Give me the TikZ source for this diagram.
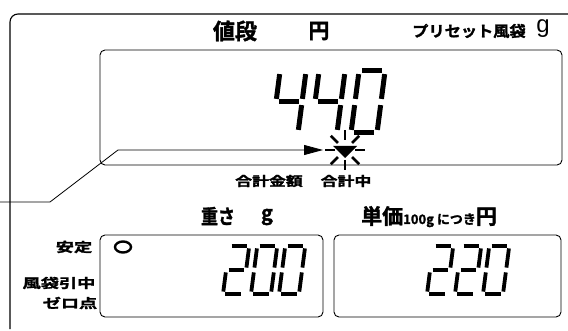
\documentclass[tikz,border=0pt]{standalone}
\usepackage{fontspec}
\newfontfamily\jp{Noto Sans CJK JP Bold}[FakeBold=1.6]
\newfontfamily\lat{Liberation Sans}
\usepackage{tikz}
\usetikzlibrary{arrows.meta,shapes.geometric}
\tikzstyle{frame}=[draw, line width=1.1pt, rounded corners=8pt]
\tikzstyle{panel}=[draw, line width=0.9pt, rounded corners=5pt, inner sep=0pt]
\tikzstyle{lbl}=[font=\jp, inner sep=0pt]
\tikzstyle{lamp}=[draw, ellipse, line width=2.4pt, inner sep=0pt, minimum width=16pt, minimum height=11pt]
\tikzstyle{leader}=[draw, line width=0.8pt, -{Triangle[length=19pt,width=10pt]}]
\tikzstyle{lcdbig}=[line width=5pt]
\tikzstyle{lcdsmall}=[line width=3.8pt]
\tikzstyle{ray}=[line width=2.8pt]

% segments of the lcd digits, x0/y0/x1/y1 in a unit cell
\def\lcdzero{0.12/1/0.88/1, 1/0.95/1/0.55, 1/0.45/1/0.05, 0.12/0/0.88/0, 0/0.45/0/0.05, 0/0.95/0/0.55}
\def\lcdtwo{0.12/1/0.88/1, 1/0.95/1/0.55, 0.12/0.5/0.88/0.5, 0/0.45/0/0.05, 0.12/0/0.88/0}
\def\lcdfour{0/0.95/0/0.55, 0.12/0.5/0.88/0.5, 1/0.95/1/0.55, 1/0.45/1/0.05}
\newcommand{\lcddigit}[6]{%
  \edef\lcdlist{\csname lcd#6\endcsname}%
  \begin{scope}[shift={(#2,#3)}, x={(#4pt,0pt)}, y={(0.13*#5pt,#5pt)}]
    \foreach \xa/\ya/\xb/\yb in \lcdlist
    \draw[#1] (\xa,\ya) -- (\xb,\yb);
  \end{scope}}

\begin{document}
\begin{tikzpicture}[x=1pt, y=-1pt]
		\useasboundingbox (0,0) rectangle (568,331);
		% First we draw the frame and the panels
		\draw[frame] (568,14) -- (10,14) -- (10,329);
		\node[panel, minimum width=462pt, minimum height=115pt] (main) at (331,107.5) {};
		\node[panel, minimum width=223pt, minimum height=82pt] (weight) at (211.5,276) {};
		\node[panel, minimum width=227pt, minimum height=82pt] (unit) at (447.5,276) {};
		
		% Labels
		\node[lbl] (price) at (235,31) {\fontsize{22}{22}\selectfont 値段};
		\node[lbl] (yen) at (319,31) {\fontsize{21}{21}\selectfont 円};
		\node[lbl] (preset) at (469,31) {\fontsize{15}{15}\selectfont\scalebox{1.08}[1]{プリセット風袋}};
		\node[lbl, font=\lat] (presetg) at (543,29) {\fontsize{24}{24}\selectfont g};
		\node[lbl] (total) at (269,181) {\fontsize{13}{13}\selectfont\scalebox{1.3}[1]{合計金額}};
		\node[lbl] (adding) at (346,181) {\fontsize{13}{13}\selectfont\scalebox{1.3}[1]{合計中}};
		\node[lbl] (wlabel) at (218,216) {\fontsize{20}{20}\selectfont\scalebox{0.85}[1]{重さ}};
		\node[lbl] (wg) at (267,217) {\fontsize{20}{20}\selectfont g};
		\node[lbl, anchor=base west] (ulabel) at (361,224) {\fontsize{21}{21}\selectfont 単価\fontsize{13}{13}\selectfont 100g につき\fontsize{21}{21}\selectfont 円};
		
		\foreach \pos/\label/\name in {
			{(74,247)/stable/安定}, {(59,283)/tare/風袋引中}, {(70,303)/zero/ゼロ点}}
		\node[lbl, anchor=center] (\label) at \pos {\fontsize{13}{13}\selectfont\scalebox{1.4}[1]{\name}};
		\node[lamp] (stablemark) at (123,247) {};
		
		% The lcd digits
		\foreach \xx/\dd in {272/four, 311/four, 351/zero}
		\lcddigit{lcdbig}{\xx}{133}{26}{62}{\dd};
		\foreach \xx/\dd in {223/two, 251/zero, 279/zero}
		\lcddigit{lcdsmall}{\xx}{294}{20}{48}{\dd};
		\foreach \xx/\dd in {427/two, 455/two, 483/zero}
		\lcddigit{lcdsmall}{\xx}{294}{20}{48}{\dd};
		
		% The blinking mark and its leader
		\coordinate (ind) at (345,150);
		\fill (333,146) -- (357,146) -- (345,158) -- cycle;
		\foreach \ang in {0,45,...,315}
		\draw[ray] (ind) ++(\ang:10) -- ++(\ang:10);
		
		\coordinate (lead) at (0,202);
		\coordinate (bendlow) at (50,202);
		\coordinate (bendup) at (118,150);
		\coordinate (tip) at (323,150);
		\path[leader] (lead) -- (bendlow) -- (bendup) -- (tip);
		\end{tikzpicture}
\end{document}
